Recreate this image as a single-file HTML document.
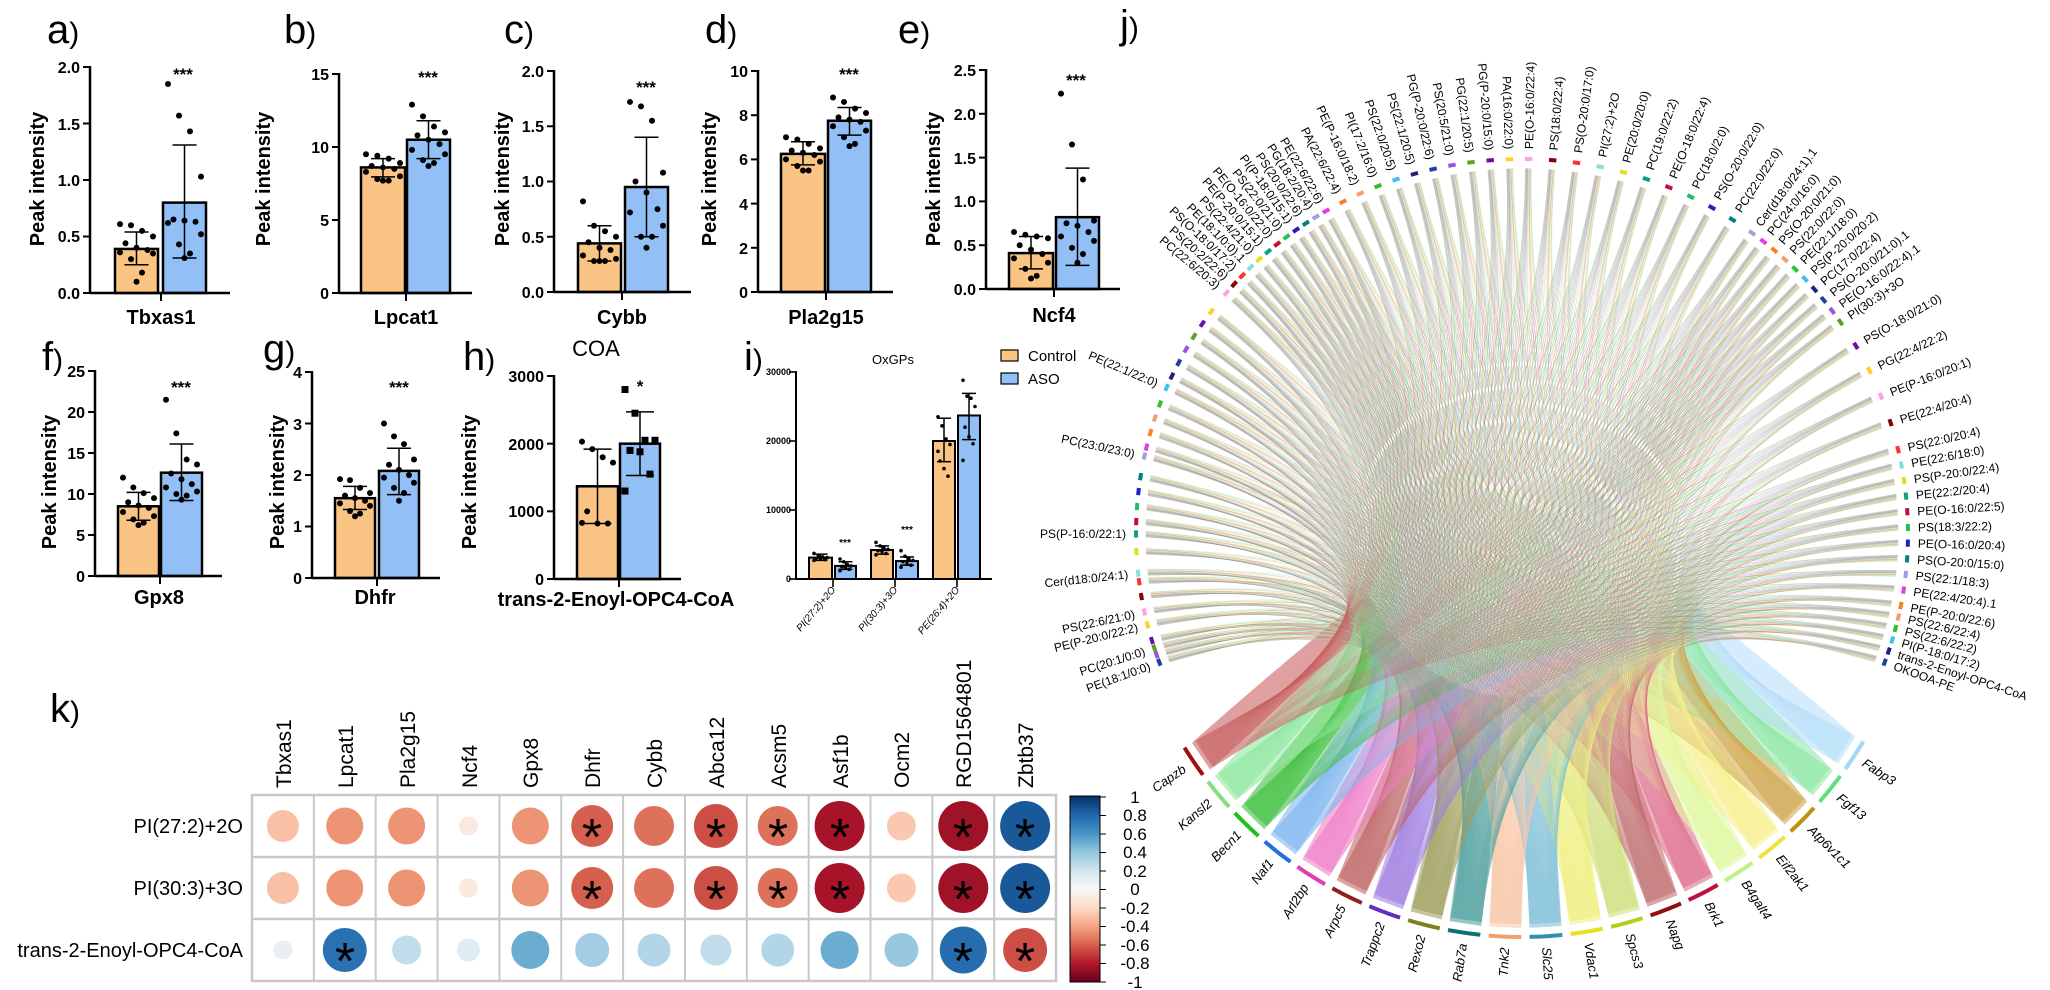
<!DOCTYPE html>
<html><head><meta charset="utf-8">
<style>
html,body{margin:0;padding:0;background:#fff;}
svg{display:block;font-family:"Liberation Sans",Arial,sans-serif;}
.tl{font-weight:bold;font-size:16px;text-anchor:end;}
.yl{font-weight:bold;font-size:20px;text-anchor:middle;}
.xl{font-weight:bold;font-size:20px;text-anchor:middle;}
.pl{font-size:40px;}
.st{font-weight:bold;font-size:17px;text-anchor:middle;}
.lip{font-size:12px;}
.gen{font-size:13px;font-style:italic;}
.cl{font-size:21px;}
.rl{font-size:20px;text-anchor:end;}
.ast{font-size:52px;text-anchor:middle;}
.cb{font-size:17px;text-anchor:middle;}
</style></head><body>
<svg id="s" width="2050" height="990" viewBox="0 0 2050 990" xmlns="http://www.w3.org/2000/svg">
<rect width="2050" height="990" fill="#fff"/>
<g id="chord"></g>
<g id="bars"></g>
<g id="kc"></g>

<!-- panel labels -->
<text class="pl" x="47" y="43">a<tspan font-size="30">)</tspan></text>
<text class="pl" x="284" y="43">b<tspan font-size="30">)</tspan></text>
<text class="pl" x="504" y="43">c<tspan font-size="30">)</tspan></text>
<text class="pl" x="705" y="43">d<tspan font-size="30">)</tspan></text>
<text class="pl" x="898" y="43">e<tspan font-size="30">)</tspan></text>
<text class="pl" x="1120" y="38">j<tspan font-size="30">)</tspan></text>
<text class="pl" x="42" y="370">f<tspan font-size="30">)</tspan></text>
<text class="pl" x="263" y="362">g<tspan font-size="30">)</tspan></text>
<text class="pl" x="463" y="370">h<tspan font-size="30">)</tspan></text>
<text class="pl" x="744" y="370">i<tspan font-size="30">)</tspan></text>
<text class="pl" x="50" y="722">k<tspan font-size="30">)</tspan></text>

<!-- Y labels -->
<text class="yl" transform="translate(44,179) rotate(-90)">Peak intensity</text>
<text class="yl" transform="translate(270,179) rotate(-90)">Peak intensity</text>
<text class="yl" transform="translate(509,179) rotate(-90)">Peak intensity</text>
<text class="yl" transform="translate(716,179) rotate(-90)">Peak intensity</text>
<text class="yl" transform="translate(940,179) rotate(-90)">Peak intensity</text>
<text class="yl" transform="translate(56,482) rotate(-90)">Peak intensity</text>
<text class="yl" transform="translate(284,482) rotate(-90)">Peak intensity</text>
<text class="yl" transform="translate(476,482) rotate(-90)">Peak intensity</text>

<!-- X labels -->
<text class="xl" x="161" y="324">Tbxas1</text>
<text class="xl" x="406" y="324">Lpcat1</text>
<text class="xl" x="622" y="324">Cybb</text>
<text class="xl" x="826" y="324">Pla2g15</text>
<text class="xl" x="1054" y="322">Ncf4</text>
<text class="xl" x="159" y="604">Gpx8</text>
<text class="xl" x="375" y="604">Dhfr</text>
<text class="xl" x="616" y="606" font-size="18">trans-2-Enoyl-OPC4-CoA</text>
<text x="596" y="356" font-size="22" text-anchor="middle">COA</text>
<text x="893" y="364" font-size="13" text-anchor="middle">OxGPs</text>

<!-- tick labels -->
<g class="tl">
<text x="80" y="299">0.0</text><text x="80" y="242">0.5</text><text x="80" y="186">1.0</text><text x="80" y="130">1.5</text><text x="80" y="73">2.0</text>
<text x="329" y="299">0</text><text x="329" y="226">5</text><text x="329" y="153">10</text><text x="329" y="80">15</text>
<text x="544" y="298">0.0</text><text x="544" y="243">0.5</text><text x="544" y="187">1.0</text><text x="544" y="132">1.5</text><text x="544" y="77">2.0</text>
<text x="748" y="298">0</text><text x="748" y="254">2</text><text x="748" y="210">4</text><text x="748" y="165">6</text><text x="748" y="121">8</text><text x="748" y="77">10</text>
<text x="976" y="295">0.0</text><text x="976" y="251">0.5</text><text x="976" y="207">1.0</text><text x="976" y="164">1.5</text><text x="976" y="120">2.0</text><text x="976" y="76">2.5</text>
<text x="85" y="582">0</text><text x="85" y="541">5</text><text x="85" y="500">10</text><text x="85" y="459">15</text><text x="85" y="418">20</text><text x="85" y="377">25</text>
<text x="302" y="584">0</text><text x="302" y="532">1</text><text x="302" y="481">2</text><text x="302" y="430">3</text><text x="302" y="378">4</text>
<text x="544" y="585">0</text><text x="544" y="517">1000</text><text x="544" y="450">2000</text><text x="544" y="382">3000</text>
</g>
<g font-size="9" font-weight="bold" text-anchor="end">
<text x="791" y="582">0</text><text x="791" y="513">10000</text><text x="791" y="444">20000</text><text x="791" y="375">30000</text>
</g>
<g font-size="10" font-style="italic" text-anchor="end">
<text transform="translate(836,590) rotate(-50)">PI(27:2)+2O</text>
<text transform="translate(898,590) rotate(-50)">PI(30:3)+3O</text>
<text transform="translate(960,590) rotate(-50)">PE(26:4)+2O</text>
</g>
<!-- stars -->
<text class="st" x="183" y="80">***</text>
<text class="st" x="428" y="83">***</text>
<text class="st" x="646" y="93">***</text>
<text class="st" x="849" y="80">***</text>
<text class="st" x="1076" y="86">***</text>
<text class="st" x="181" y="393">***</text>
<text class="st" x="399" y="393">***</text>
<text class="st" x="640" y="392">*</text>
<text x="845" y="546" font-size="10" font-weight="bold" text-anchor="middle">***</text>
<text x="907" y="533" font-size="10" font-weight="bold" text-anchor="middle">***</text>
<!-- legend -->
<rect x="1001" y="350" width="17" height="11" fill="#FAC484" stroke="#000" stroke-width="1.2"/>
<text x="1028" y="361" font-size="15">Control</text>
<rect x="1001" y="373" width="17" height="11" fill="#91BFF6" stroke="#000" stroke-width="1.2"/>
<text x="1028" y="384" font-size="15">ASO</text>

<!-- panel k text -->
<g class="cl">
<text transform="translate(291,788) rotate(-90)">Tbxas1</text>
<text transform="translate(353,788) rotate(-90)">Lpcat1</text>
<text transform="translate(415,788) rotate(-90)">Pla2g15</text>
<text transform="translate(477,788) rotate(-90)">Ncf4</text>
<text transform="translate(538,788) rotate(-90)">Gpx8</text>
<text transform="translate(600,788) rotate(-90)">Dhfr</text>
<text transform="translate(662,788) rotate(-90)">Cybb</text>
<text transform="translate(724,788) rotate(-90)">Abca12</text>
<text transform="translate(786,788) rotate(-90)">Acsm5</text>
<text transform="translate(848,788) rotate(-90)">Asf1b</text>
<text transform="translate(909,788) rotate(-90)">Ocm2</text>
<text transform="translate(971,788) rotate(-90)">RGD1564801</text>
<text transform="translate(1033,788) rotate(-90)">Zbtb37</text>
</g>
<text class="rl" x="243" y="833">PI(27:2)+2O</text>
<text class="rl" x="243" y="895">PI(30:3)+3O</text>
<text class="rl" x="243" y="957">trans-2-Enoyl-OPC4-CoA</text>
<g class="ast">
<text x="592" y="855">*</text><text x="716" y="855">*</text><text x="778" y="855">*</text><text x="840" y="855">*</text><text x="963" y="855">*</text><text x="1025" y="855">*</text>
<text x="592" y="917">*</text><text x="716" y="917">*</text><text x="778" y="917">*</text><text x="840" y="917">*</text><text x="963" y="917">*</text><text x="1025" y="917">*</text>
<text x="345" y="979">*</text><text x="963" y="979">*</text><text x="1025" y="979">*</text>
</g>
<g class="cb">
<text x="1135" y="803">1</text><text x="1135" y="821">0.8</text><text x="1135" y="840">0.6</text><text x="1135" y="858">0.4</text><text x="1135" y="877">0.2</text><text x="1135" y="895">0</text><text x="1135" y="914">-0.2</text><text x="1135" y="932">-0.4</text><text x="1135" y="951">-0.6</text><text x="1135" y="969">-0.8</text><text x="1135" y="988">-1</text>
</g>

<!-- lipid labels -->
<g id="lip" class="lip">
<text>PE(18:1/0:0)</text><text>PC(20:1/0:0)</text><text>PE(P-20:0/22:2)</text><text>PS(22:6/21:0)</text><text>Cer(d18:0/24:1)</text><text>PS(P-16:0/22:1)</text><text>PC(23:0/23:0)</text><text>PE(22:1/22:0)</text>
<text>PC(22:6/20:3)</text><text>PS(20:2/22:6)</text><text>PS(O-18:0/17:2)</text><text>PE(18:1/0:0).1</text><text>PS(22:4/21:0)</text><text>PE(P-20:0/15:1)</text><text>PE(O-16:0/22:0)</text><text>PS(22:0/21:0)</text><text>PI(P-18:0/15:1)</text><text>PS(20:0/22:6)</text><text>PG(18:2/20:4)</text><text>PE(22:6/22:6)</text>
<text>PA(22:6/22:4)</text><text>PE(P-16:0/18:2)</text><text>PI(17:2/16:0)</text><text>PS(22:0/20:5)</text><text>PS(22:1/20:5)</text><text>PG(P-20:0/22:6)</text><text>PS(20:5/21:0)</text><text>PG(22:1/20:5)</text><text>PG(P-20:0/15:0)</text><text>PA(16:0/22:0)</text><text>PE(O-16:0/22:4)</text>
<text>PS(18:0/22:4)</text><text>PS(O-20:0/17:0)</text><text>PI(27:2)+2O</text><text>PE(20:0/20:0)</text><text>PC(19:0/22:2)</text><text>PE(O-18:0/22:4)</text><text>PC(18:0/2:0)</text><text>PS(O-20:0/22:0)</text><text>PC(22:0/22:0)</text><text>Cer(d18:0/24:1).1</text><text>PC(24:0/16:0)</text>
<text>PS(O-20:0/21:0)</text><text>PS(22:0/22:0)</text><text>PE(22:1/18:0)</text><text>PS(P-20:0/20:2)</text><text>PC(17:0/22:4)</text><text>PS(O-20:0/21:0).1</text><text>PE(O-16:0/22:4).1</text><text>PI(30:3)+3O</text>
<text>PS(O-18:0/21:0)</text><text>PG(22:4/22:2)</text><text>PE(P-16:0/20:1)</text><text>PE(22:4/20:4)</text><text>PS(22:0/20:4)</text>
<text>PE(22:6/18:0)</text><text>PS(P-20:0/22:4)</text><text>PE(22:2/20:4)</text><text>PE(O-16:0/22:5)</text><text>PS(18:3/22:2)</text><text>PE(O-16:0/20:4)</text><text>PS(O-20:0/15:0)</text><text>PS(22:1/18:3)</text><text>PE(22:4/20:4).1</text><text>PE(P-20:0/22:6)</text><text>PS(22:6/22:4)</text><text>PS(22:6/22:2)</text><text>PI(P-18:0/17:2)</text><text>trans-2-Enoyl-OPC4-CoA</text><text>OKOOA-PE</text>
</g>
<g id="gen" class="gen">
<text>Capzb</text><text>Kansl2</text><text>Becn1</text><text>Naf1</text><text>Arl2bp</text><text>Arpc5</text><text>Trappc2</text><text>Rexo2</text><text>Rab7a</text><text>Tnk2</text><text>Slc25</text><text>Vdac1</text><text>Spcs3</text><text>Napg</text><text>Brk1</text><text>B4galt4</text><text>Eif2ak1</text><text>Atp6v1c1</text><text>Fgf13</text><text>Fabp3</text>
</g>
</svg>
<script>
(function(){
const NS="http://www.w3.org/2000/svg";
const O='#FAC484',B='#91BFF6';
let s='';
function panel(p){
 const Y=v=>p.y0-v/p.vmax*(p.y0-p.yt);
 const sw=p.sw||2.5;
 p.bars.forEach(b=>{
  const y=Y(b[2]);
  s+=`<rect x="${b[0]}" y="${y}" width="${b[1]-b[0]}" height="${p.y0-y}" fill="${b[6]}" stroke="#000" stroke-width="${sw}"/>`;
 });
 p.bars.forEach(b=>{
  const cx=(b[0]+b[1])/2, cw=p.cw||12;
  s+=`<line x1="${cx}" y1="${Y(b[3])}" x2="${cx}" y2="${Y(b[4])}" stroke="#000" stroke-width="1.5"/>`;
  s+=`<line x1="${cx-cw}" y1="${Y(b[3])}" x2="${cx+cw}" y2="${Y(b[3])}" stroke="#000" stroke-width="1.5"/>`;
  s+=`<line x1="${cx-cw}" y1="${Y(b[4])}" x2="${cx+cw}" y2="${Y(b[4])}" stroke="#000" stroke-width="1.5"/>`;
  const J=[-12,-4,4,12,-8,0,8,-12,12,-4,4,0];
  const hw=(b[1]-b[0])/2-5;
  b[5].forEach((v,i)=>{
   const x=cx+J[i%12]/12*hw, y=Y(v), r=p.r||3;
   if(b[7]==='sq') s+=`<rect x="${x-3.5}" y="${y-3.5}" width="7" height="7" fill="#000"/>`;
   else s+=`<circle cx="${x}" cy="${y}" r="${r}" fill="#000"/>`;
  });
 });
 s+=`<line x1="${p.ax}" y1="${p.yt-1}" x2="${p.ax}" y2="${p.y0}" stroke="#000" stroke-width="${sw}"/>`;
 s+=`<line x1="${p.ax}" y1="${p.y0}" x2="${p.xe}" y2="${p.y0}" stroke="#000" stroke-width="${sw}"/>`;
 p.ticks.forEach(v=>{s+=`<line x1="${p.ax-7}" y1="${Y(v)}" x2="${p.ax}" y2="${Y(v)}" stroke="#000" stroke-width="${sw*0.8}"/>`;});
 p.ct.forEach(c=>{s+=`<line x1="${c}" y1="${p.y0}" x2="${c}" y2="${p.y0+8}" stroke="#000" stroke-width="${sw*0.8}"/>`;});
}
const P=[
{ax:90,y0:293,yt:67,vmax:2,xe:230,ct:[161],ticks:[0,.5,1,1.5,2],bars:[[115,158,.39,.25,.54,[.61,.6,.55,.5,.44,.4,.38,.36,.35,.3,.18,.1],O],[163,206,.8,.31,1.31,[1.85,1.57,1.43,1.03,.65,.64,.63,.62,.52,.43,.35,.31],B]]},
{ax:339,y0:293,yt:74,vmax:15,xe:472,ct:[406],ticks:[0,5,10,15],bars:[[361,405,8.6,7.95,9.2,[9.5,9.4,9.2,8.9,8.7,8.6,8.5,8.3,8.0,7.8,7.7,7.7],O],[407,450,10.5,9.2,11.8,[12.9,12.1,11.4,11.0,10.8,10.5,10.2,9.8,9.5,9.1,8.9,8.7],B]]},
{ax:554,y0:292,yt:71,vmax:2,xe:691,ct:[622],ticks:[0,.5,1,1.5,2],bars:[[578,621,.44,.28,.6,[.82,.6,.55,.5,.45,.4,.38,.33,.3,.28,.28,.28],O],[625,668,.95,.5,1.4,[1.72,1.68,1.55,1.08,1.0,.9,.75,.72,.6,.5,.5,.4],B]]},
{ax:758,y0:292,yt:71,vmax:10,xe:893,ct:[826],ticks:[0,2,4,6,8,10],bars:[[781,825,6.25,5.75,6.8,[7,6.9,6.7,6.5,6.4,6.3,6.2,6,5.9,5.7,5.5,5.5],O],[828,871,7.75,7.1,8.35,[8.8,8.6,8.3,8.1,7.9,7.8,7.7,7.5,7.3,7,6.7,6.6],B]]},
{ax:986,y0:289,yt:70,vmax:2.5,xe:1120,ct:[1054],ticks:[0,.5,1,1.5,2,2.5],bars:[[1009,1053,.41,.23,.6,[.65,.62,.6,.58,.5,.45,.4,.35,.3,.23,.15,.12],O],[1056,1099,.82,.27,1.38,[2.23,1.65,1.25,.78,.75,.72,.65,.6,.55,.47,.4,.3],B]]},
{ax:95,y0:576,yt:371,vmax:25,xe:222,ct:[160],ticks:[0,5,10,15,20,25],bars:[[118,159,8.5,6.8,10.2,[12,10.8,10.1,9.5,9,8.6,8.3,7.8,7.3,6.9,6.5,6.2],O],[161,202,12.6,9.2,16.1,[21.5,17.4,14.2,13.6,12.5,11.8,11.2,10.8,10.3,10,9.8,9.3],B]]},
{ax:312,y0:578,yt:372,vmax:4,xe:440,ct:[377],ticks:[0,1,2,3,4],bars:[[335,375,1.55,1.33,1.78,[1.92,1.9,1.75,1.65,1.6,1.55,1.5,1.45,1.4,1.3,1.25,1.2],O],[379,419,2.08,1.62,2.52,[3,2.75,2.6,2.3,2.2,2.1,2,1.95,1.85,1.75,1.65,1.5],B]]},
{ax:554,y0:579,yt:376,vmax:3000,xe:681,ct:[619],ticks:[0,1000,2000,3000],cw:14,bars:[[577,618,1370,820,1920,[2030,1920,1800,1720,1000,820,820,830],O],[620,660,2000,1530,2470,[2800,2450,2050,2050,1900,1880,1550,1300],B,'sq']]},
{ax:796,y0:579,yt:372,vmax:30000,xe:992,ct:[833,895,957],ticks:[0,10000,20000,30000],sw:2,cw:7,r:1.8,bars:[
 [809,832,3100,2700,3600,[3700,3400,3200,3100,3000,2900,2800,2700],O],[835,856,1900,1400,2500,[2900,2500,2100,1900,1800,1600,1400,1200],B],
 [871,893,4200,3600,4800,[5300,4800,4500,4300,4100,4000,3700,3500],O],[896,918,2600,2000,3200,[4100,3300,2900,2700,2500,2200,2000,1700],B],
 [933,955,20000,17000,23300,[23500,22200,20300,19500,17100,16000,14900,18500],O],[958,980,23700,20200,26900,[28800,26500,26200,25000,22000,20600,19600,17200],B]]}
];
P.forEach(panel);
document.getElementById('bars').innerHTML=s;

// ---- panel k
function lerpC(a,b,t){const pa=[1,3,5].map(i=>parseInt(a.substr(i,2),16)),pb=[1,3,5].map(i=>parseInt(b.substr(i,2),16));return 'rgb('+pa.map((v,i)=>Math.round(v+(pb[i]-v)*t)).join(',')+')';}
const stops=['#67001f','#b2182b','#d6604d','#f4a582','#fddbc7','#f7f7f7','#d1e5f0','#92c5de','#4393c3','#2166ac','#053061'];
function rdbu(v){const x=(v+1)/2*10;const i=Math.min(9,Math.floor(x));return lerpC(stops[i],stops[i+1],x-i);}
let k='';
k+=`<rect x="252" y="795" width="804" height="186" fill="#fff" stroke="#c8c8c8" stroke-width="2.5"/>`;
for(let c=1;c<13;c++){const x=252+c*61.85;k+=`<line x1="${x}" y1="795" x2="${x}" y2="981" stroke="#c8c8c8" stroke-width="2"/>`;}
[857,919].forEach(y=>{k+=`<line x1="252" y1="${y}" x2="1056" y2="${y}" stroke="#c8c8c8" stroke-width="2.5"/>`;});
const R=[[-0.3,-0.45,-0.45,-0.1,-0.45,-0.6,-0.55,-0.65,-0.55,-0.83,-0.27,-0.85,0.85],
[-0.3,-0.45,-0.45,-0.1,-0.45,-0.6,-0.55,-0.65,-0.55,-0.83,-0.27,-0.85,0.85],
[0.08,0.75,0.25,0.12,0.5,0.35,0.3,0.25,0.3,0.5,0.38,0.77,-0.65]];
const D=[[32,37,37,19,37,42,40,44,40,50,29,50,50],[32,37,37,19,37,42,40,44,40,50,29,50,50],[19,44,29,23,38,34,33,31,33,38,34,47,44]];
R.forEach((row,ri)=>row.forEach((v,ci)=>{const cx=252+61.85*(ci+.5),cy=826+ri*62;k+=`<circle cx="${cx}" cy="${cy}" r="${D[ri][ci]/2}" fill="${rdbu(v)}"/>`;}));
k+=`<defs><linearGradient id="cbg" x1="0" y1="0" x2="0" y2="1">`+stops.slice().reverse().map((c,i)=>`<stop offset="${i/10}" stop-color="${c}"/>`).join('')+`</linearGradient></defs>`;
k+=`<rect x="1070" y="796" width="30" height="186" fill="url(#cbg)" stroke="#000" stroke-width="1"/>`;
for(let i=0;i<11;i++){const y=797+i*18.5;k+=`<line x1="1100" y1="${y}" x2="1106" y2="${y}" stroke="#000" stroke-width="1"/>`;}
document.getElementById('kc').innerHTML=k;

// ---- chord
const CX=1522,CY=534,RX=386,RY=375,GX=395,GY=400;
const rad=d=>d*Math.PI/180;
const pt=(t,rx,ry)=>[CX+rx*Math.cos(rad(t)),CY+ry*Math.sin(rad(t))];
const left=[160,162.3,166,168,174,180,192,203];
const anc=[[0,220],[11,239.5],[22,271],[32,306.6],[41,325.6],[46,347],[56,371],[61,380]];
const dense=[];
for(let i=0;i<62;i++){for(let a=0;a<anc.length-1;a++){if(i>=anc[a][0]&&i<=anc[a+1][0]){const f=(i-anc[a][0])/(anc[a+1][0]-anc[a][0]);dense.push(anc[a][1]+f*(anc[a+1][1]-anc[a][1]));break;}}}
const labA=left.concat(dense);
let ticks=labA.slice();
for(let t=161.2;t<218;t+=2.3){if(!left.some(l=>Math.abs(l-t)<1.1))ticks.push(t);}
ticks.sort((a,b)=>a-b);
const pal=['#1f3fa0','#30c030','#e040e0','#2020c0','#10a080','#ff3030','#ffd020','#a050e0','#40c0f0','#ff8020','#008080','#c01040','#80e0e0','#ffa0e0','#60a020','#202080','#f0a070','#a0a0e0','#20c060','#e0e020','#8b0000','#6a0dad'];
const gring=['#a01010','#80e080','#20c020','#2070e0','#e040b0','#902020','#6030c0','#808020','#107070','#f0a070','#3090b0','#e8e020','#b0d020','#901010','#c01040','#c0f080','#f0e040','#c09010','#60e080','#a0d8f8'];
const grib=['#c86060','#90e8a0','#40c040','#80b8f0','#f080c8','#c06868','#a080e0','#a0a060','#50a0a0','#f8c8a8','#80c0d8','#f0f080','#d0e080','#c07070','#e07090','#e0f8a0','#f8f090','#d0a850','#90e8a8','#b8e0f8'];
const NG=20,gap=1.2,gw=(117-19*gap)/NG;
const gs=[];for(let g=0;g<NG;g++){const a=148-g*(gw+gap);gs.push([a,a-gw]);}
let c='';
// ribbons
gs.forEach((sp,g)=>{
 const A=pt(sp[0],GX*0.985,GY*0.985),Bp=pt(sp[1],GX*0.985,GY*0.985);
 const T=[1522,470];
 const M=[(A[0]+Bp[0])/2,(A[1]+Bp[1])/2];
 const dx=T[0]-M[0],dy=T[1]-M[1],L=Math.hypot(dx,dy),f=Math.min(0.6,230/L);
 const E=[M[0]+dx*f,M[1]+dy*f];
 const hx=(Bp[0]-A[0])*0.3,hy=(Bp[1]-A[1])*0.3;
 const C1=[A[0]+dx*f*0.5,A[1]+dy*f*0.5],C2=[Bp[0]+dx*f*0.5,Bp[1]+dy*f*0.5];
 c+=`<path d="M${A} Q${C1} ${E[0]-hx},${E[1]-hy} L${E[0]+hx},${E[1]+hy} Q${C2} ${Bp} Z" fill="${grib[g]}" opacity="0.6"/>`;
});
// lines
const NT=ticks.length;
ticks.forEach((t,i)=>{
 for(let g=0;g<NG;g++){
  const S=pt(t+(g-9.5)*0.05,RX*0.975,RY*0.975);
  const fr=(i+0.5)/NT;
  const gt=gs[g][0]-(gs[g][0]-gs[g][1])*fr;
  const E=pt(gt,GX*0.975,GY*0.975);
  c+=`<path d="M${S[0].toFixed(1)},${S[1].toFixed(1)} Q${CX},${CY+30} ${E[0].toFixed(1)},${E[1].toFixed(1)}" fill="none" stroke="${grib[g]}" stroke-width="0.6" opacity="0.45"/>`;
 }
});
// lipid ticks
ticks.forEach((t,i)=>{const a=pt(t-0.55,RX,RY),b=pt(t+0.55,RX,RY);c+=`<line x1="${a[0]}" y1="${a[1]}" x2="${b[0]}" y2="${b[1]}" stroke="${pal[(i*7)%pal.length]}" stroke-width="4"/>`;});
// gene ring
gs.forEach((sp,g)=>{let d='';for(let k2=0;k2<=10;k2++){const p=pt(sp[0]-(sp[0]-sp[1])*k2/10,GX+3,GY+3);d+=(k2?'L':'M')+p[0].toFixed(1)+','+p[1].toFixed(1);}c+=`<path d="${d}" fill="none" stroke="${gring[g]}" stroke-width="4"/>`;});
document.getElementById('chord').innerHTML=c;
// lipid labels
const lt=document.querySelectorAll('#lip text');
lt.forEach((e,i)=>{const t=labA[i];const p=pt(t,RX+10,RY+10);let ang=((t%360)+360)%360;let r,anch;
 if(ang>90&&ang<270){r=ang-180;anch='end';}else{r=ang>270?ang-360:ang;anch='start';}
 e.setAttribute('x',p[0]);e.setAttribute('y',p[1]);e.setAttribute('dy','0.35em');e.setAttribute('text-anchor',anch);e.setAttribute('transform',`rotate(${r},${p[0]},${p[1]})`);});
const gt2=document.querySelectorAll('#gen text');
gt2.forEach((e,g)=>{const t=(gs[g][0]+gs[g][1])/2;const p=pt(t,GX+14,GY+14);let r,anch;
 if(t>90){r=t-180;anch='end';}else{r=t;anch='start';}
 e.setAttribute('x',p[0]);e.setAttribute('y',p[1]);e.setAttribute('dy','0.35em');e.setAttribute('text-anchor',anch);e.setAttribute('transform',`rotate(${r},${p[0]},${p[1]})`);});
})();
</script>
</body></html>
